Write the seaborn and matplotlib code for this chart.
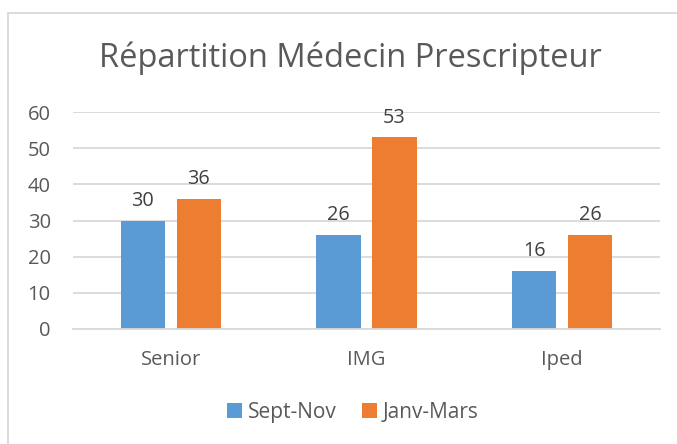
import matplotlib
matplotlib.use("Agg")
import matplotlib.pyplot as plt
from matplotlib.patches import Rectangle, Patch
import seaborn as sns
import pandas as pd

categories = ["Senior", "IMG", "Iped"]
series_names = ["Sept-Nov", "Janv-Mars"]
sept_nov = [30, 26, 16]
janv_mars = [36, 53, 26]
title = "Répartition Médecin Prescripteur"
yticks = [0, 10, 20, 30, 40, 50, 60]

colors = ["#5B9BD5", "#ED7D31"]
text_col = "#595959"
grid_col = "#D9D9D9"

df = pd.DataFrame({
    "cat": categories * 2,
    "serie": [series_names[0]] * 3 + [series_names[1]] * 3,
    "val": sept_nov + janv_mars,
})

sns.set_theme(style="white")
plt.rcParams["font.family"] = ["Open Sans", "DejaVu Sans"]

W, H = 677, 444
fig = plt.figure(figsize=(W / 100, H / 100), dpi=100)
ax = fig.add_axes([73 / W, 1 - 329 / H, (660 - 73) / W, (329 - 112) / H])

sns.barplot(data=df, x="cat", y="val", hue="serie", order=categories,
            hue_order=series_names, palette=colors, width=0.572, gap=0.21,
            saturation=1, ax=ax, legend=False, edgecolor="none")

for cont in ax.containers:
    ax.bar_label(cont, fmt="%d", padding=7, fontsize=14.3, color="#404040")

ax.set_ylim(0, 60)
ax.set_xlim(-0.5, 2.5)
ax.set_yticks(yticks)
ax.set_yticklabels([str(v) for v in yticks])
ax.yaxis.grid(True, color=grid_col, linewidth=1.3)
ax.set_axisbelow(True)
ax.set_xlabel("")
ax.set_ylabel("")
for s in ["top", "right", "left"]:
    ax.spines[s].set_visible(False)
ax.spines["bottom"].set_color(grid_col)
ax.spines["bottom"].set_linewidth(1.3)
ax.tick_params(axis="y", length=0, pad=16, labelsize=14.5, labelcolor=text_col)
ax.tick_params(axis="x", which="major", length=0, pad=15, labelsize=14.5, labelcolor=text_col)
ax.set_xticks([-0.5, 0.5, 1.5, 2.5], minor=True)
ax.tick_params(axis="x", which="minor", length=6, color=grid_col, width=1.3)

fig.text(350 / W, 1 - 58 / H, title, ha="center", va="center", fontsize=23.5, color=text_col)

handles = [Patch(facecolor=c, edgecolor="none") for c in colors]
fig.legend(handles, series_names, loc="center", bbox_to_anchor=(353 / W, 1 - 412 / H),
           ncol=2, frameon=False, fontsize=15, handlelength=0.7, handleheight=0.7,
           handletextpad=0.3, columnspacing=1.2, labelcolor=text_col)

fig.patches.append(Rectangle((8 / W, -0.05), (W + 20) / W, 1.05 - 13 / H,
                             transform=fig.transFigure, fill=False,
                             edgecolor=grid_col, linewidth=1.3))

fig.savefig("out.png", dpi=100, facecolor="white")
